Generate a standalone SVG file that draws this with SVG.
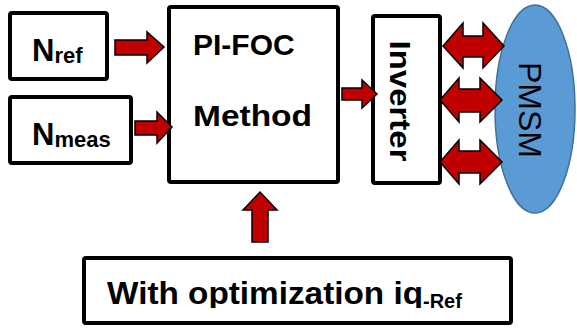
<svg xmlns="http://www.w3.org/2000/svg" width="577" height="328" viewBox="0 0 577 328">
<style>
.box{fill:#fff;stroke:#000;stroke-width:4}
.arr{fill:#C00000;stroke:#000;stroke-width:1.5;stroke-linejoin:miter}
.t{font-family:"Liberation Sans",Arial,sans-serif;font-weight:bold;fill:#000}
.reg{font-weight:normal}
</style>
<defs>
<clipPath id="cl"><rect x="84" y="258" width="427" height="50"/></clipPath>
</defs>
<rect width="577" height="328" fill="#fff"/>
<g id="nref">
<rect class="box" x="10" y="13" width="97" height="66" rx="2"/>
<text class="t" x="32" y="61" font-size="31">N<tspan font-size="22" dy="2">ref</tspan></text>
</g>
<g id="nmeas">
<rect class="box" x="10" y="97" width="121" height="66" rx="2"/>
<text class="t" x="32" y="145" font-size="31">N<tspan font-size="22" dy="2">meas</tspan></text>
</g>
<g id="pifoc">
<rect class="box" x="169" y="7" width="169" height="175" rx="2"/>
<text class="t" x="193" y="55" font-size="30">PI-FOC</text>
<text class="t" x="193" y="126" font-size="30" textLength="119" lengthAdjust="spacingAndGlyphs">Method</text>
</g>
<g id="inverter">
<rect class="box" x="373" y="16" width="67" height="167" rx="2"/>
<text class="t" font-size="30" text-anchor="middle" transform="translate(390,101) rotate(90)" textLength="121" lengthAdjust="spacingAndGlyphs">Inverter</text>
</g>
<g id="pmsm">
<ellipse cx="535" cy="109" rx="40" ry="104" fill="#5B9BD5" stroke="#41719C" stroke-width="1.5"/>
<text class="t reg" font-size="32" text-anchor="middle" transform="translate(519,110) rotate(90)">PMSM</text>
</g>
<g id="opt">
<rect class="box" x="84" y="258" width="427" height="65" rx="2"/>
<text class="t" x="107" y="304" font-size="31" clip-path="url(#cl)"><tspan textLength="316" lengthAdjust="spacingAndGlyphs">With optimization iq</tspan><tspan font-size="20" dy="4">-Ref</tspan></text>
</g>
<g id="connectors">
<polygon class="arr" points="115,40 147,40 147,32 164,47 147,63 147,55 115,55"/>
<polygon class="arr" points="135,121 157,121 157,112 172,127 157,143 157,135 135,135"/>
<polygon class="arr" points="342,88 362,88 362,80 377,94 362,108 362,100 342,100"/>
<polygon class="arr" points="252,242 252,210 243,210 260,192 277,210 268,210 268,242"/>
<polygon class="arr" points="443,46 463,23 463,36 483,36 483,23 504,46 483,68 483,57 463,57 463,68"/>
<polygon class="arr" points="440,100 459,78 459,89 480,89 480,78 502,100 480,122 480,112 459,112 459,122"/>
<polygon class="arr" points="440,162 459,140 459,151 480,151 480,140 502,162 480,184 480,173 459,173 459,184"/>
</g>
</svg>
